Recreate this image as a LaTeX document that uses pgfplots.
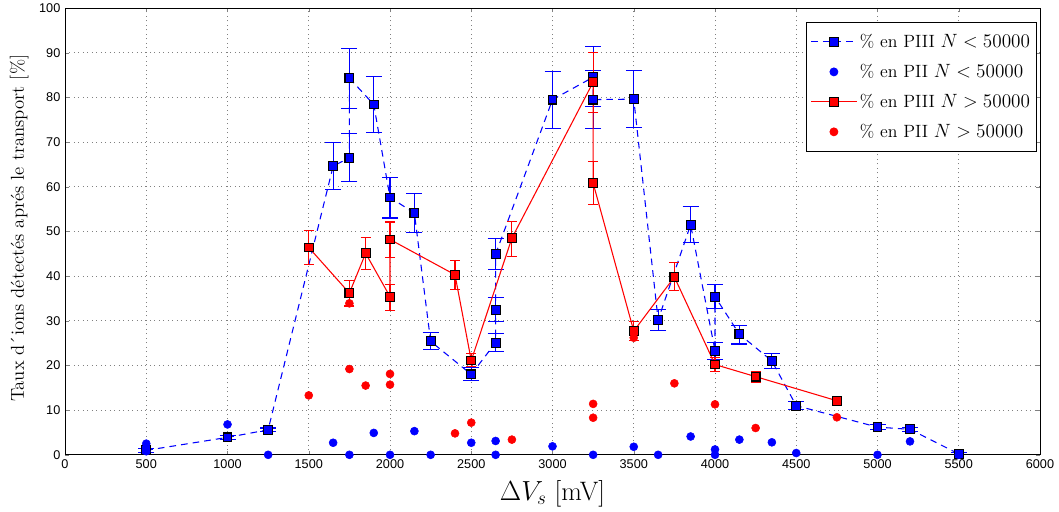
\documentclass[border=0pt]{standalone}
\usepackage{fontspec}
\usepackage{pgfplots}
\pgfplotsset{compat=1.18}
\newfontfamily\ticksf{Liberation Sans}
\pgfplotsset{
  linelegend/.style={legend image code/.code={\draw[mark repeat=2,mark phase=2] plot coordinates {(0cm,0cm) (0.6cm,0cm) (1.2cm,0cm)};}},
  dotlegend/.style={legend image code/.code={\draw[only marks] plot coordinates {(0.6cm,0cm)};}},
}
\begin{document}
\begin{tikzpicture}
\begin{axis}[
  scale only axis,
  width=731pt, height=335pt,
  at={(0,0)}, anchor=south west,
  xmin=0, xmax=6000, ymin=0, ymax=100,
  xtick={0,500,...,6000},
  ytick={0,10,...,100},
  scaled ticks=false,
  /pgf/number format/1000 sep={},
  /pgf/number format/assume math mode=true,
  ticklabel style={font=\ticksf\fontsize{9.5}{10}\selectfont},
  tick align=inside,
  major tick length=3pt,
  grid=major,
  major grid style={black!50, line width=0.5pt, dash pattern=on 0.75pt off 2.6pt},
  axis line style={black, line width=0.6pt},
  xlabel={$\Delta V_s$ [mV]},
  xlabel style={font=\fontsize{20}{22}\selectfont, at={(axis description cs:0.5,0)}, anchor=center, yshift=-29pt},
  ylabel={Taux d´ions détectés aprés le transport [\%]},
  ylabel style={font=\fontsize{14}{16}\selectfont, at={(axis description cs:-0.047,0.507)}, anchor=center, rotate=0},
  legend style={at={(0.997,0.969)}, anchor=north east, draw=black, fill=white,
     font=\fontsize{13.3}{16}\selectfont, row sep=7pt, inner xsep=3pt, inner ysep=7pt,
     line width=0.6pt},
  legend cell align=left,
]
% Blue PIII N<50000
\addplot[blue, line width=0.8pt, dash pattern=on 5pt off 3.8pt, linelegend,
  mark=square*, mark size=3.3pt, mark options={solid, fill=blue, draw=black, line width=0.8pt},
  error bars/y dir=both, error bars/y explicit,
  error bars/error bar style={solid, draw=blue, line width=0.8pt},
  error bars/error mark options={solid, draw=blue, rotate=90, mark size=6pt, line width=0.8pt}]
coordinates {
(500,1.0) += (0,0.4) -= (0,0.4)
(1000,3.9) += (0,0.4) -= (0,0.4)
(1250,5.6) += (0,0.4) -= (0,0.4)
(1650,64.6) += (0,5.2) -= (0,5.3)
(1750,66.5) += (0,5.4) -= (0,5.3)
(1750,84.3) += (0,6.7) -= (0,6.8)
(1900,78.4) += (0,6.3) -= (0,6.3)
(2000,57.6) += (0,4.5) -= (0,4.6)
(2150,54.1) += (0,4.3) -= (0,4.4)
(2250,25.4) += (0,2.0) -= (0,1.9)
(2500,18.0) += (0,1.6) -= (0,1.4)
(2650,25.1) += (0,2.0) -= (0,2.0)
(2650,32.4) += (0,2.8) -= (0,2.5)
(2650,44.9) += (0,3.6) -= (0,3.4)
(3000,79.5) += (0,6.3) -= (0,6.5)
(3250,84.5) += (0,6.9) -= (0,6.6)
(3250,79.5) += (0,6.5) -= (0,6.4)
(3500,79.6) += (0,6.4) -= (0,6.4)
(3650,30.2) += (0,2.4) -= (0,2.4)
(3850,51.5) += (0,4.0) -= (0,4.0)
(4000,23.3) += (0,1.9) -= (0,1.9)
(4000,35.4) += (0,2.8) -= (0,2.7)
(4150,27.0) += (0,2.0) -= (0,2.2)
(4350,21.0) += (0,1.7) -= (0,1.7)
(4500,11.0) += (0,0.9) -= (0,0.9)
(5000,6.2) += (0,0.5) -= (0,0.5)
(5200,5.7) += (0,0.5) -= (0,0.5)
(5500,0.2) += (0,0.3) -= (0,0.3)
};
\addlegendentry{\% en PIII $N<50000$}
% Blue PII N<50000
\addplot[only marks, blue, dotlegend, mark=*, mark size=3pt, mark options={fill=blue, draw=blue}]
coordinates {
(500,2.5) (500,0.8) (1000,6.8) (1250,0) (1650,2.7) (1750,0) (1900,4.9) (2000,0)
(2150,5.3) (2250,0) (2500,2.7) (2650,3.1) (2650,0) (3000,1.9) (3250,0) (3500,1.8)
(3650,0) (3850,4.1) (4000,1.2) (4000,0) (4150,3.4) (4350,2.8) (4500,0.4) (5000,0)
(5200,3.0) (5500,0)
};
\addlegendentry{\% en PII $N<50000$}
% Red PIII N>50000
\addplot[red, line width=0.8pt, linelegend,
  mark=square*, mark size=3.3pt, mark options={solid, fill=red, draw=black, line width=0.8pt},
  error bars/y dir=both, error bars/y explicit,
  error bars/error bar style={draw=red, line width=0.8pt},
  error bars/error mark options={draw=red, rotate=90, mark size=3.8pt, line width=0.8pt}]
coordinates {
(1500,46.4) += (0,3.8) -= (0,3.8)
(1750,36.2) += (0,2.9) -= (0,2.9)
(1850,45.1) += (0,3.5) -= (0,3.6)
(2000,35.4) += (0,2.7) -= (0,3.0)
(2000,48.2) += (0,3.9) -= (0,4.0)
(2400,40.3) += (0,3.2) -= (0,3.3)
(2500,21.1) += (0,1.5) -= (0,1.3)
(2750,48.5) += (0,3.7) -= (0,4.1)
(3250,83.4) += (0,6.7) -= (0,6.8)
(3250,60.8) += (0,4.9) -= (0,4.8)
(3500,27.7) += (0,2.2) -= (0,2.2)
(3750,39.8) += (0,3.2) -= (0,3.0)
(4000,20.2) += (0,1.5) -= (0,1.5)
(4250,17.5) += (0,1.2) -= (0,1.4)
(4750,12.1) += (0,0.5) -= (0,0.5)
};
\addlegendentry{\% en PIII $N>50000$}
% Red PII N>50000
\addplot[only marks, red, dotlegend, mark=*, mark size=3pt, mark options={fill=red, draw=red}]
coordinates {
(1500,13.3) (1750,33.9) (1750,19.2) (1850,15.5) (2000,18.1) (2000,15.7) (2400,4.8)
(2500,7.2) (2750,3.4) (3250,11.4) (3250,8.3) (3500,26.2) (3750,16.0) (4000,11.3)
(4250,6.0) (4750,8.4)
};
\addlegendentry{\% en PII $N>50000$}
\end{axis}
\pgfresetboundingbox
\path[use as bounding box] (-48.75pt,-42.75pt) rectangle (745.25pt,341pt);
\end{tikzpicture}
\end{document}
